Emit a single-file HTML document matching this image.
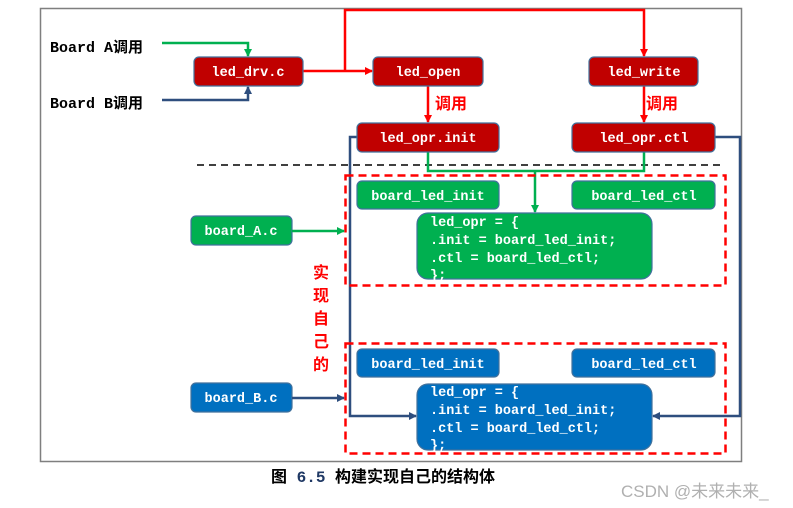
<!DOCTYPE html>
<html><head><meta charset="utf-8"><style>
html,body{margin:0;padding:0;background:#fff;width:793px;height:508px;overflow:hidden}
svg{display:block}
.m{font-family:"Liberation Mono","DejaVu Sans Mono",monospace;font-weight:bold;font-size:13.5px;fill:#fff}
.c{font-family:"Liberation Sans","Noto Sans CJK SC",sans-serif;font-weight:bold}
.bm{font-family:"Liberation Mono","Noto Sans CJK SC",monospace;font-weight:bold}
</style></head><body>
<svg width="793" height="508" viewBox="0 0 793 508" xmlns="http://www.w3.org/2000/svg">
<defs>
<marker id="ar" markerWidth="8" markerHeight="8" refX="7" refY="4" orient="auto" markerUnits="userSpaceOnUse"><path d="M0,0 L8,4 L0,8 z" fill="#ff0000"/></marker>
<marker id="ag" markerWidth="8" markerHeight="8" refX="7" refY="4" orient="auto" markerUnits="userSpaceOnUse"><path d="M0,0 L8,4 L0,8 z" fill="#00b050"/></marker>
<marker id="ab" markerWidth="8" markerHeight="8" refX="7" refY="4" orient="auto" markerUnits="userSpaceOnUse"><path d="M0,0 L8,4 L0,8 z" fill="#2e4e7e"/></marker>
</defs>
<rect x="40.5" y="8.5" width="701" height="453" fill="#fff" stroke="#7f7f7f" stroke-width="1.5"/>
<text x="50" y="52" class="bm" font-size="15" fill="#000">Board A调用</text>
<text x="50" y="108" class="bm" font-size="15" fill="#000">Board B调用</text>
<polyline points="162,43 248,43 248,56" fill="none" stroke="#00b050" stroke-width="2.5" marker-end="url(#ag)"/>
<polyline points="162,100 248,100 248,87" fill="none" stroke="#2e4e7e" stroke-width="2.5" marker-end="url(#ab)"/>
<line x1="303" y1="71" x2="372" y2="71" stroke="#ff0000" stroke-width="2.5" marker-end="url(#ar)"/>
<polyline points="345,71 345,10 644,10 644,56" fill="none" stroke="#ff0000" stroke-width="2.5" marker-end="url(#ar)"/>
<line x1="428" y1="86" x2="428" y2="122" stroke="#ff0000" stroke-width="2.5" marker-end="url(#ar)"/>
<line x1="644" y1="86" x2="644" y2="122" stroke="#ff0000" stroke-width="2.5" marker-end="url(#ar)"/>
<text x="435" y="109" class="c" font-size="16" fill="#ff0000">调用</text>
<text x="646" y="109" class="c" font-size="16" fill="#ff0000">调用</text>
<polyline points="357,137 350,137 350,416 416,416" fill="none" stroke="#2e4e7e" stroke-width="2.5" marker-end="url(#ab)"/>
<polyline points="715,137 740,137 740,416 653,416" fill="none" stroke="#2e4e7e" stroke-width="2.5" marker-end="url(#ab)"/>
<line x1="197" y1="165" x2="722" y2="165" stroke="#000" stroke-width="1.5" stroke-dasharray="7,5"/>
<polyline points="428,152 428,171 644,171 644,152" fill="none" stroke="#00b050" stroke-width="2.5"/>
<line x1="535" y1="171" x2="535" y2="212" stroke="#00b050" stroke-width="2.5" marker-end="url(#ag)"/>
<rect x="345.5" y="175.5" width="380" height="110" fill="none" stroke="#ff0000" stroke-width="2.5" stroke-dasharray="8,5"/>
<rect x="345.5" y="343.5" width="380" height="110" fill="none" stroke="#ff0000" stroke-width="2.5" stroke-dasharray="8,5"/>
<g stroke="#41719c" stroke-width="1.2" fill="#c00000">
<rect x="194" y="57" width="109" height="29" rx="5"/>
<rect x="373" y="57" width="110" height="29" rx="5"/>
<rect x="589" y="57" width="109" height="29" rx="5"/>
<rect x="357" y="123" width="142" height="29" rx="5"/>
<rect x="572" y="123" width="143" height="29" rx="5"/>
</g>
<text x="248" y="76" class="m" text-anchor="middle">led_drv.c</text>
<text x="428" y="76" class="m" text-anchor="middle">led_open</text>
<text x="644" y="76" class="m" text-anchor="middle">led_write</text>
<text x="428" y="142" class="m" text-anchor="middle">led_opr.init</text>
<text x="644" y="142" class="m" text-anchor="middle">led_opr.ctl</text>
<g stroke="#41719c" stroke-width="1.2" fill="#00b050">
<rect x="357" y="181" width="142" height="28" rx="5"/>
<rect x="572" y="181" width="143" height="28" rx="5"/>
<rect x="191" y="216" width="101" height="29" rx="5"/>
<rect x="417" y="213" width="235" height="66" rx="11"/>
</g>
<text x="428" y="200" class="m" text-anchor="middle">board_led_init</text>
<text x="644" y="200" class="m" text-anchor="middle">board_led_ctl</text>
<text x="241" y="235" class="m" text-anchor="middle">board_A.c</text>
<text x="430" y="226" class="m">led_opr = {</text>
<text x="430" y="244" class="m">.init = board_led_init;</text>
<text x="430" y="262" class="m">.ctl = board_led_ctl;</text>
<text x="430" y="279" class="m">};</text>
<line x1="292" y1="231" x2="344" y2="231" stroke="#00b050" stroke-width="2.5" marker-end="url(#ag)"/>
<g stroke="#41719c" stroke-width="1.2" fill="#0070c0">
<rect x="357" y="349" width="142" height="28" rx="5"/>
<rect x="572" y="349" width="143" height="28" rx="5"/>
<rect x="191" y="383" width="101" height="29" rx="5"/>
<rect x="417" y="384" width="235" height="66" rx="11"/>
</g>
<text x="428" y="368" class="m" text-anchor="middle">board_led_init</text>
<text x="644" y="368" class="m" text-anchor="middle">board_led_ctl</text>
<text x="241" y="402" class="m" text-anchor="middle">board_B.c</text>
<text x="430" y="396" class="m">led_opr = {</text>
<text x="430" y="414" class="m">.init = board_led_init;</text>
<text x="430" y="432" class="m">.ctl = board_led_ctl;</text>
<text x="430" y="449" class="m">};</text>
<line x1="292" y1="398" x2="344" y2="398" stroke="#2e4e7e" stroke-width="2.5" marker-end="url(#ab)"/>
<g class="c" font-size="16" fill="#ff0000" text-anchor="middle">
<text x="321" y="278">实</text><text x="321" y="301">现</text><text x="321" y="324">自</text><text x="321" y="347">己</text><text x="321" y="370">的</text>
</g>
<text x="271" y="482" class="bm" font-size="16" fill="#000">图 <tspan fill="#1f3864">6.5</tspan> 构建实现自己的结构体</text>
<text x="621" y="497" font-family="Liberation Sans,Noto Sans CJK SC,sans-serif" font-size="17" fill="#b0b0b0">CSDN @未来未来_</text>
</svg>
</body></html>
